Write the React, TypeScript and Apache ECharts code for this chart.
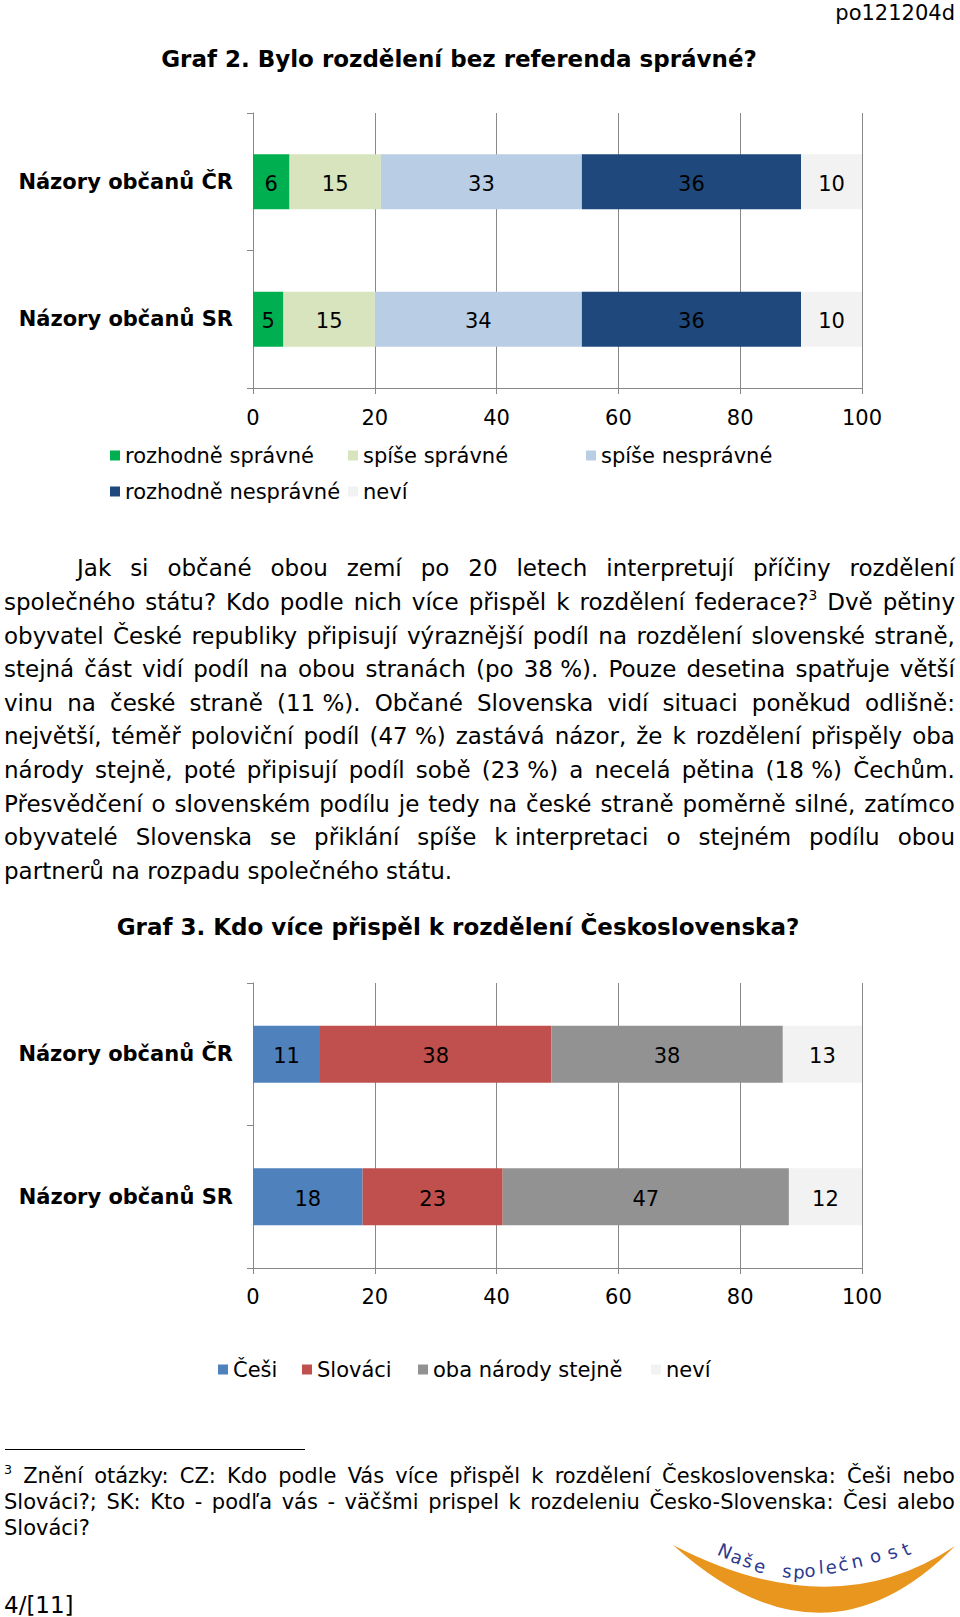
import React, { useEffect, useRef } from "react";
import * as echarts from "echarts";

const FONT = "'DejaVu Sans', Verdana, sans-serif";

// ---------- data ----------
const CATEGORIES = ["Názory občanů ČR", "Názory občanů SR"];

const G2_TITLE = "Graf 2. Bylo rozdělení bez referenda správné?";
const G2_NAMES = ["rozhodně správné", "spíše správné", "spíše nesprávné", "rozhodně nesprávné", "neví"];
const G2_ROZHODNE_SPRAVNE = [6, 5];
const G2_SPISE_SPRAVNE = [15, 15];
const G2_SPISE_NESPRAVNE = [33, 34];
const G2_ROZHODNE_NESPRAVNE = [36, 36];
const G2_NEVI = [10, 10];
const G2_COLORS = ["#00B050", "#D7E4BD", "#B9CDE5", "#1F497D", "#F2F2F2"];

const G3_TITLE = "Graf 3. Kdo více přispěl k rozdělení Československa?";
const G3_NAMES = ["Češi", "Slováci", "oba národy stejně", "neví"];
const G3_CESI = [11, 18];
const G3_SLOVACI = [38, 23];
const G3_OBA = [38, 47];
const G3_NEVI = [13, 12];
const G3_COLORS = ["#4F81BD", "#C0504D", "#929292", "#F2F2F2"];

const AXIS_MIN = 0;
const AXIS_MAX = 100;
const AXIS_STEP = 20;

const DOC_CODE = "po121204d";
const PAGE_NO = "4/[11]";

const BODY_LINES = [
  "Jak si občané obou zemí po 20 letech interpretují příčiny rozdělení",
  "společného státu? Kdo podle nich více přispěl k rozdělení federace?^3 Dvě pětiny",
  "obyvatel České republiky připisují výraznější podíl na rozdělení slovenské straně,",
  "stejná část vidí podíl na obou stranách (po 38\u00A0%). Pouze desetina spatřuje větší",
  "vinu na české straně (11\u00A0%). Občané Slovenska vidí situaci poněkud odlišně:",
  "největší, téměř poloviční podíl (47\u00A0%) zastává názor, že k rozdělení přispěly oba",
  "národy stejně, poté připisují podíl sobě (23\u00A0%) a necelá pětina (18\u00A0%) Čechům.",
  "Přesvědčení o slovenském podílu je tedy na české straně poměrně silné, zatímco",
  "obyvatelé Slovenska se přiklání spíše k\u00A0interpretaci o stejném podílu obou",
  "partnerů na rozpadu společného státu.",
];

const FOOTNOTE_LINES = [
  "^3 Znění otázky: CZ: Kdo podle Vás více přispěl k rozdělení Československa: Češi nebo",
  "Slováci?; SK: Kto - podľa vás - väčšmi prispel k rozdeleniu Česko-Slovenska: Česi alebo",
  "Slováci?",
];

const LOGO_TEXT = "Naše společnost";

// ---------- logo shape ----------
echarts.graphic.registerShape(
  "nsCrescent",
  echarts.graphic.extendPath("M0 5 Q150 140 282 6 Q160 88 0 5 Z", {})
);

const GRID_COLOR = "#888888";

function buildOption() {
  const grids = [
    { left: 253, top: 113, width: 609, height: 275 },
    { left: 253, top: 983, width: 609, height: 285 },
  ];
  const xAxis = grids.map((_, i) => ({
    type: "value",
    gridIndex: i,
    min: AXIS_MIN,
    max: AXIS_MAX,
    interval: AXIS_STEP,
    axisLine: { show: true, lineStyle: { color: GRID_COLOR, width: 1 } },
    axisTick: { show: true, length: 6, lineStyle: { color: GRID_COLOR } },
    splitLine: { show: true, lineStyle: { color: GRID_COLOR, width: 1 } },
    axisLabel: { fontSize: 21, color: "#000", fontFamily: FONT, margin: i === 0 ? 19 : 18 },
  }));
  const yAxis = grids.map((_, i) => ({
    type: "category",
    gridIndex: i,
    data: CATEGORIES,
    inverse: true,
    axisLine: { show: true, lineStyle: { color: GRID_COLOR, width: 1 } },
    axisTick: { show: true, length: 6, lineStyle: { color: GRID_COLOR } },
    axisLabel: {
      fontSize: 21, fontWeight: "bold", color: "#000", fontFamily: FONT, margin: 20,
      padding: [5, 0, 0, 0],
    },
  }));

  const g2Data = [G2_ROZHODNE_SPRAVNE, G2_SPISE_SPRAVNE, G2_SPISE_NESPRAVNE, G2_ROZHODNE_NESPRAVNE, G2_NEVI];
  const g3Data = [G3_CESI, G3_SLOVACI, G3_OBA, G3_NEVI];

  const label = { show: true, position: "inside", color: "#000", fontSize: 21, fontFamily: FONT, offset: [0, 2] };
  const series: any[] = [];
  G2_NAMES.forEach((name, k) =>
    series.push({
      type: "bar", name, stack: "g2", xAxisIndex: 0, yAxisIndex: 0,
      data: g2Data[k], barWidth: "40%", itemStyle: { color: G2_COLORS[k] }, label,
    })
  );
  G3_NAMES.forEach((name, k) =>
    series.push({
      type: "bar", name, stack: "g3", xAxisIndex: 1, yAxisIndex: 1,
      data: g3Data[k], barWidth: "40%", itemStyle: { color: G3_COLORS[k] }, label,
    })
  );

  const legendBase = {
    padding: 0, itemWidth: 10, itemHeight: 10, icon: "rect", selectedMode: false, itemGap: 0,
    textStyle: { fontSize: 21, color: "#000", fontFamily: FONT },
  };
  const legendSpots: [string, number, number][] = [
    [G2_NAMES[0], 110, 456],
    [G2_NAMES[1], 348, 456],
    [G2_NAMES[2], 586, 456],
    [G2_NAMES[3], 110, 492],
    [G2_NAMES[4], 348, 492],
    [G3_NAMES[0], 218, 1370],
    [G3_NAMES[1], 302, 1370],
    [G3_NAMES[2], 418, 1370],
    [G3_NAMES[3], 651, 1370],
  ];
  const legend = legendSpots.map(([name, left, cy]) => ({
    ...legendBase, data: [name], left, top: cy - 11,
  }));

  const titleStyle = { fontSize: 23, fontWeight: "bold", color: "#000", fontFamily: FONT };
  const title = [
    { text: G2_TITLE, left: 459, top: 47, textAlign: "center", padding: 0, textStyle: titleStyle },
    { text: G3_TITLE, left: 458, top: 915, textAlign: "center", padding: 0, textStyle: titleStyle },
  ];

  // logo letters along the crescent
  const letterSpots: [number, number, number][] = [
    [725, 1551, -0.42], [737, 1557, -0.36], [748, 1561, -0.3], [760, 1566, -0.24],
    [0, 0, 0],
    [787, 1571, -0.1], [799, 1572, -0.05], [810, 1570, 0], [821, 1567, 0.06],
    [831, 1567, 0.1], [843, 1564, 0.16], [857, 1561, 0.22], [875, 1556, 0.3],
    [892, 1552, 0.36], [906, 1549, 0.42],
  ];
  const letters: any[] = [];
  Array.from(LOGO_TEXT).forEach((ch, i) => {
    if (ch === " ") return;
    const [x, y, r] = letterSpots[i];
    letters.push({
      type: "text", x, y, rotation: r,
      style: {
        text: ch, fill: "#2B3990", fontSize: 18, fontFamily: "'DejaVu Sans', sans-serif",
        align: "center", verticalAlign: "middle",
      },
    });
  });

  const graphic = [
    { type: "nsCrescent", x: 673, y: 1540, style: { fill: "#E8961E" } },
    ...letters,
  ];

  return {
    animation: false,
    textStyle: { fontFamily: FONT },
    title,
    legend,
    grid: grids,
    xAxis,
    yAxis,
    series,
    graphic,
  };
}

function renderWords(line: string) {
  return line.split(" ").map((w, i) => {
    if (w.includes("^3")) {
      const parts = w.split("^3");
      return (
        <span key={i}>
          {parts[0]}
          <sup style={{ fontSize: "0.6em", verticalAlign: "0.7em", lineHeight: 0 }}>3</sup>
          {parts[1]}
        </span>
      );
    }
    return <span key={i}>{w}</span>;
  });
}

function JustLine(props: { text: string; left: number; right: number; cy: number; lh: number; fs: number; justify: boolean }) {
  const { text, left, right, cy, lh, fs, justify } = props;
  const style: React.CSSProperties = {
    position: "absolute",
    left,
    width: right - left,
    top: cy - lh / 2,
    height: lh,
    lineHeight: lh + "px",
    fontSize: fs,
    whiteSpace: "nowrap",
  };
  if (justify) {
    return (
      <div style={{ ...style, display: "flex", justifyContent: "space-between" }}>{renderWords(text)}</div>
    );
  }
  const words = renderWords(text);
  return (
    <div style={style}>
      {words.map((w, i) => (
        <React.Fragment key={i}>
          {i > 0 ? " " : ""}
          {w}
        </React.Fragment>
      ))}
    </div>
  );
}

export default function App() {
  const ref = useRef<HTMLDivElement>(null);
  useEffect(() => {
    if (!ref.current) return;
    const chart = echarts.init(ref.current, null, { renderer: "svg" });
    chart.setOption(buildOption() as any);
    return () => chart.dispose();
  }, []);

  const bodyCy = [568, 602, 636, 669, 703, 736, 770, 804, 837, 871];
  const footCy = [1476, 1502, 1528];

  return (
    <div
      style={{
        position: "absolute", left: 0, top: 0, width: 960, height: 1617,
        background: "#fff", overflow: "hidden", fontFamily: FONT, color: "#000",
      }}
    >
      <div ref={ref} style={{ position: "absolute", left: 0, top: 0, width: 960, height: 1617 }} />
      <div style={{ position: "absolute", right: 5, top: 0, lineHeight: "26px", fontSize: 21 }}>{DOC_CODE}</div>
      {BODY_LINES.map((t, i) => (
        <JustLine
          key={i}
          text={t}
          left={i === 0 ? 77 : 4}
          right={955}
          cy={bodyCy[i]}
          lh={34}
          fs={23}
          justify={i < BODY_LINES.length - 1}
        />
      ))}
      <div style={{ position: "absolute", left: 5, top: 1449, width: 300, height: 1, background: "#000" }} />
      {FOOTNOTE_LINES.map((t, i) => (
        <JustLine
          key={i}
          text={t}
          left={4}
          right={955}
          cy={footCy[i]}
          lh={26}
          fs={21}
          justify={i < FOOTNOTE_LINES.length - 1}
        />
      ))}
      <div style={{ position: "absolute", left: 4, top: 1588, lineHeight: "34px", fontSize: 23 }}>{PAGE_NO}</div>
    </div>
  );
}
